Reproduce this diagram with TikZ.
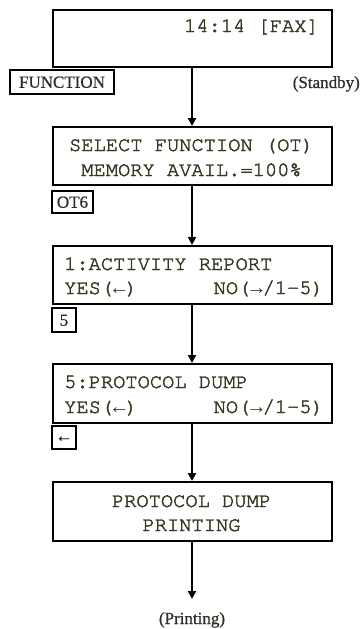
\documentclass[tikz,border=0pt]{standalone}
\usepackage{fontspec}
\setmainfont{Liberation Serif}
\newfontfamily\lcdfont[FakeBold=2.2]{texgyrecursor-regular.otf}
\newfontfamily\arrfont{Liberation Mono}
\newfontfamily\lblfont[FakeBold=0.8]{Liberation Serif}
\usetikzlibrary{arrows.meta}
\definecolor{lcdtext}{HTML}{3A3822}
\definecolor{lbltext}{HTML}{2E2E26}
\newcommand{\la}{{\arrfont ←}}
\newcommand{\ra}{{\arrfont →}}
\tikzset{
  screen/.style={draw=black, line width=1.6pt, inner sep=0pt, anchor=north west},
  keybox/.style={draw=black, line width=1.3pt, inner sep=0pt, text=lbltext,
    font=\lblfont\fontsize{17}{17}\selectfont, text height=11.5pt, text depth=0pt},
  lcd/.style={inner sep=0pt, text=lcdtext, font=\lcdfont\fontsize{20.4}{20.4}\selectfont},
  note/.style={inner sep=0pt, text=lbltext, font=\lblfont\fontsize{17}{17}\selectfont},
  flow/.style={line width=2pt, -{Triangle[length=8pt,width=8pt]}}
}
\begin{document}
\begin{tikzpicture}[x=1pt,y=-1pt]
\useasboundingbox (0,0) rectangle (360,629);
% screens
\node[screen, minimum width=279pt, minimum height=57pt] (s1) at (52,9) {};
\node[screen, minimum width=279pt, minimum height=58pt] (s2) at (52,126) {};
\node[screen, minimum width=279pt, minimum height=58pt] (s3) at (52,245) {};
\node[screen, minimum width=279pt, minimum height=59pt] (s4) at (52,363) {};
\node[screen, minimum width=279pt, minimum height=59pt] (s5) at (52,481) {};
% screen texts
\node[lcd, anchor=base east] (t1) at (319,32) {14:14 [FAX]};
\node[lcd, anchor=base] (t2a) at (191.5,151) {SELECT FUNCTION (OT)};
\node[lcd, anchor=base] (t2b) at (191.5,176) {MEMORY AVAIL.=100\%};
\node[lcd, anchor=base west] (t3a) at (64,270) {1:ACTIVITY REPORT};
\node[lcd, anchor=base west] (t3b) at (64,294) {YES(\la)};
\node[lcd, anchor=base east] (t3c) at (324,294) {NO(\ra/1-5)};
\node[lcd, anchor=base west] (t4a) at (64,388) {5:PROTOCOL DUMP};
\node[lcd, anchor=base west] (t4b) at (64,413) {YES(\la)};
\node[lcd, anchor=base east] (t4c) at (324,413) {NO(\ra/1-5)};
\node[lcd, anchor=base] (t5a) at (191.5,507) {PROTOCOL DUMP};
\node[lcd, anchor=base] (t5b) at (191.5,531) {PRINTING};
% key boxes
\node[keybox, minimum width=104pt, minimum height=24pt] (k1) at (62,82) {FUNCTION};
\node[keybox, minimum width=41pt, minimum height=22pt] (k2) at (72.5,202) {OT6};
\node[keybox, minimum width=24pt, minimum height=24pt] (k3) at (64,320) {5};
\node[keybox, minimum width=24pt, minimum height=23pt, text height=8pt] (k4) at (64,437.5) {←};
% notes
\node[note, anchor=base east] (n1) at (360,88) {(Standby)};
\node[note, anchor=base] (n2) at (192,624) {(Printing)};
\coordinate (end) at (192,599);
% connectors
\draw[flow] (s1.south -| 192,0) -- (s2.north -| 192,0);
\draw[flow] (s2.south -| 192,0) -- (s3.north -| 192,0);
\draw[flow] (s3.south -| 192,0) -- (s4.north -| 192,0);
\draw[flow] (s4.south -| 192,0) -- (s5.north -| 192,0);
\draw[flow] (s5.south -| 192,0) -- (end);
\end{tikzpicture}
\end{document}
